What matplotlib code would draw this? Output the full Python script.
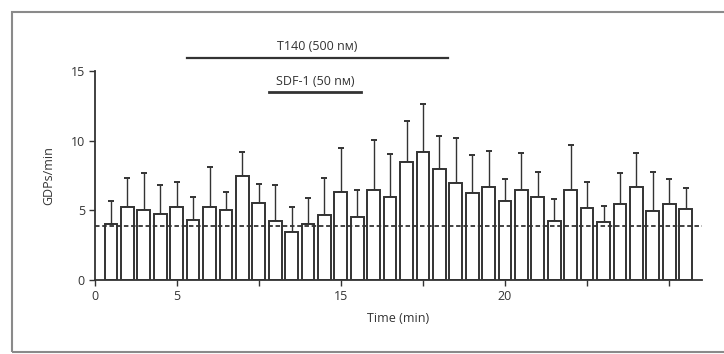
import numpy as np
from matplotlib import pyplot as plt
from matplotlib.patches import Rectangle

# GDP frequency per minute (mean and upper SEM), one bar per minute
minutes = np.arange(1, 37)
gdp_mean = [4.0, 5.24, 5.02, 4.76, 5.24, 4.28, 5.24, 5.0, 7.46, 5.5, 4.21, 3.44,
            4.0, 4.69, 6.34, 4.5, 6.44, 5.93, 8.45, 9.22, 8.0, 6.95, 6.23, 6.68,
            5.7, 6.45, 5.95, 4.2, 6.45, 5.15, 4.15, 5.42, 6.65, 4.92, 5.42, 5.12]
gdp_err = [1.68, 2.06, 2.64, 2.04, 1.79, 1.65, 2.85, 1.34, 1.73, 1.39, 2.61, 1.8,
           1.88, 2.65, 3.16, 1.96, 3.61, 3.09, 2.95, 3.38, 2.3, 3.27, 2.77, 2.6,
           1.53, 2.7, 1.83, 1.6, 3.21, 1.91, 1.15, 2.28, 2.49, 2.86, 1.85, 1.5]
baseline = 3.85

xticks = [0, 5, 10, 15, 20, 25, 30, 35]
xtick_labels = ["0", "5", "", "15", "", "20", "", ""]
yticks = [0, 5, 10, 15]

t140_span = (5.63, 21.5)
sdf_span = (10.6, 16.25)

plt.rcParams["font.family"] = ["Open Sans", "DejaVu Sans"]
ink = "#333333"
fs = 9

fig = plt.figure(figsize=(7.24, 3.54), dpi=100)
ax = fig.add_axes([94.6 / 724, 1 - 280 / 354, (702 - 94.6) / 724, (280 - 71) / 354])

ax.bar(minutes, gdp_mean, width=0.78, facecolor="white", edgecolor=ink,
       linewidth=1.4, zorder=2)
ax.errorbar(minutes, gdp_mean, yerr=[np.zeros(len(gdp_err)), gdp_err], fmt="none",
            ecolor=ink, elinewidth=1.0, capsize=2, capthick=1.4, zorder=1)
ax.axhline(baseline, color=ink, linewidth=1.3, dashes=(2.5, 1.5), zorder=3)

ax.set_xlim(0, 37)
ax.set_ylim(0, 15)
ax.set_xticks(xticks)
ax.set_xticklabels(xtick_labels)
ax.set_yticks(yticks)
for s in ["top", "right"]:
    ax.spines[s].set_visible(False)
for s in ["left", "bottom"]:
    ax.spines[s].set_color(ink)
    ax.spines[s].set_linewidth(1.3)
ax.tick_params(colors=ink, labelsize=fs, length=4, width=1.0, pad=3)
ax.set_xlabel("Time (min)", fontsize=fs, color=ink, labelpad=7)
ax.set_ylabel("GDPs/min", fontsize=fs, color=ink, labelpad=11)

# treatment bars above the plot
ax.plot(t140_span, [15.96, 15.96], color=ink, lw=1.6, clip_on=False)
ax.text(sum(t140_span) / 2, 16.73, "T140 (500 nм)", ha="center", va="center",
        fontsize=fs, color=ink, clip_on=False)
ax.plot(sdf_span, [13.5, 13.5], color=ink, lw=2.0, clip_on=False)
ax.text(sum(sdf_span) / 2, 14.25, "SDF-1 (50 nм)", ha="center", va="center",
        fontsize=fs, color=ink, clip_on=False)

# frame around the panel
fig.add_artist(Rectangle((12 / 724, 2 / 354), 1.0, 340 / 354,
                         transform=fig.transFigure, fill=False,
                         edgecolor="#8a8a8a", linewidth=1.5))

fig.savefig("out.png", dpi=100)
